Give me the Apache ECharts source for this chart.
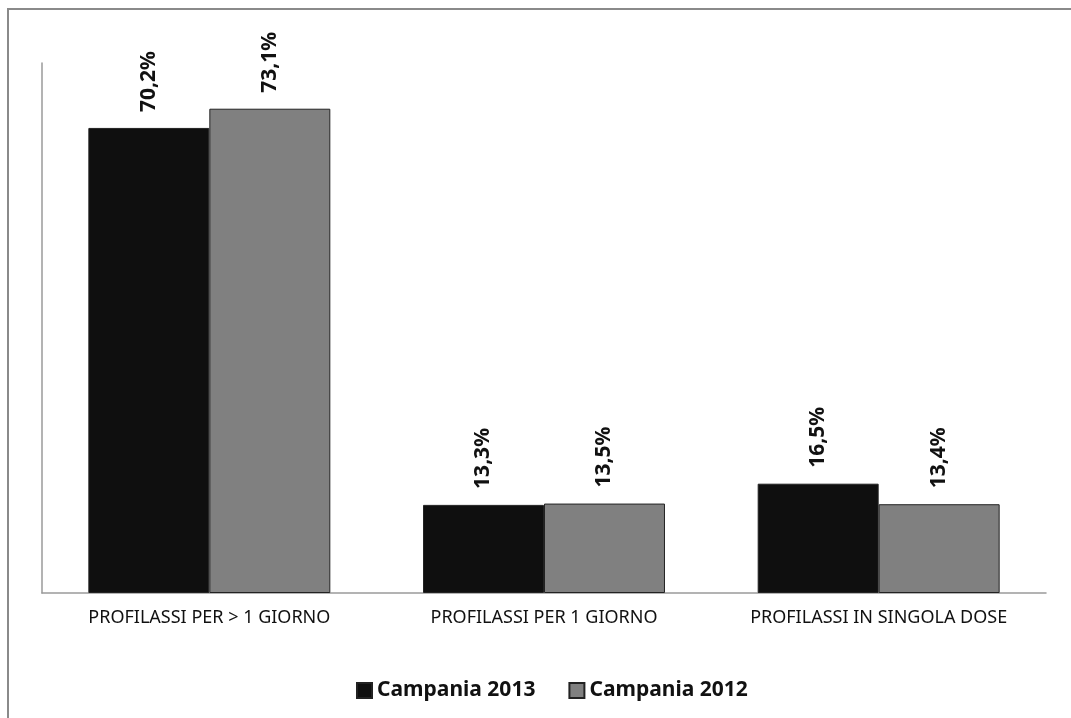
<!DOCTYPE html>
<html>
<head>
<meta charset="utf-8">
<script src="https://cdn.jsdelivr.net/npm/echarts@6/dist/echarts.min.js"></script>
<style>
  html, body { margin: 0; padding: 0; background: #fff; }
  #chart { width: 1071px; height: 718px; }
</style>
</head>
<body>
<div id="chart"></div>
<script>
  // categorie e valori (%)
  var categories = ["PROFILASSI PER > 1 GIORNO", "PROFILASSI PER 1 GIORNO", "PROFILASSI IN SINGOLA DOSE"];
  var seriesNames = ["Campania 2013", "Campania 2012"];
  var values2013 = [70.2, 13.3, 16.5];
  var values2012 = [73.1, 13.5, 13.4];

  var FONT = "Noto Sans";

  function pct(v) {
    return v.toFixed(1).replace(".", ",") + "%";
  }

  function barSeries(name, data, color) {
    return {
      name: name,
      type: "bar",
      data: data,
      barGap: "0%",
      barCategoryGap: "27.7%",
      itemStyle: { color: color, borderColor: "#222222", borderWidth: 1 },
      label: {
        show: true,
        position: "top",
        rotate: 90,
        align: "left",
        verticalAlign: "middle",
        distance: 16,
        formatter: function (p) { return pct(p.value); },
        color: "#111111",
        fontFamily: FONT,
        fontWeight: "bold",
        fontSize: 21
      }
    };
  }

  var chart = echarts.init(document.getElementById("chart"), null, { renderer: "canvas" });
  chart.setOption({
    backgroundColor: "#ffffff",
    animation: false,
    graphic: [{
      type: "rect",
      shape: { x: 8, y: 9, width: 1200, height: 900 },
      style: { fill: null, stroke: "#8a8a8a", lineWidth: 2 },
      silent: true
    }],
    grid: { left: 42, right: 25, top: 63, bottom: 125 },
    legend: {
      bottom: 12,
      left: 351,
      icon: "rect",
      itemWidth: 15,
      itemHeight: 15,
      itemGap: 33,
      textStyle: { fontFamily: FONT, fontWeight: "bold", fontSize: 21, color: "#111111" },
      data: seriesNames
    },
    xAxis: {
      type: "category",
      data: categories,
      axisLine: { lineStyle: { color: "#9a9a9a", width: 1.5 } },
      axisTick: { show: false },
      axisLabel: { fontFamily: FONT, fontSize: 18, color: "#111111", margin: 16 }
    },
    yAxis: {
      type: "value",
      min: 0,
      max: 80,
      axisLine: { show: true, lineStyle: { color: "#9a9a9a", width: 1.5 } },
      axisTick: { show: false },
      axisLabel: { show: false },
      splitLine: { show: false }
    },
    series: [
      barSeries(seriesNames[0], values2013, "#0f0f0f"),
      barSeries(seriesNames[1], values2012, "#808080")
    ]
  });
</script>
</body>
</html>
